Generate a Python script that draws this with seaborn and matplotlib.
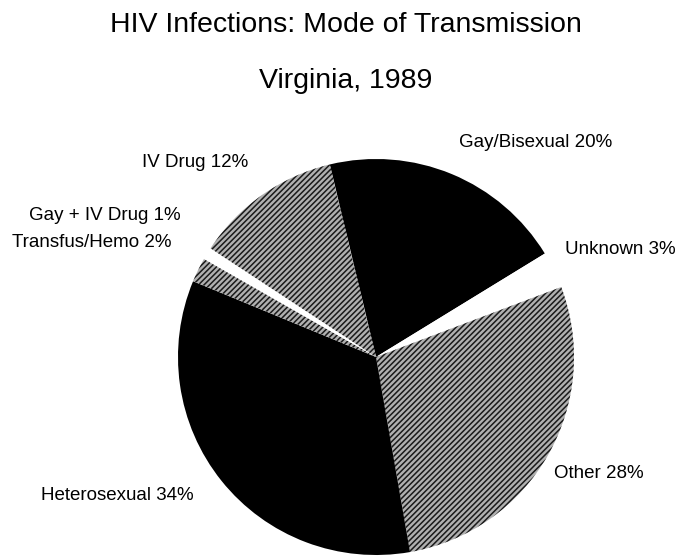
"""
HIV infections by mode of transmission, Virginia 1989 -- pie chart.
"""

import matplotlib

matplotlib.use("Agg")
import matplotlib.pyplot as plt
import seaborn as sns

# slices, clockwise starting at the top (Gay/Bisexual)
CATEGORIES = [
    "Gay/Bisexual",
    "Unknown",
    "Other",
    "Heterosexual",
    "Transfus/Hemo",
    "Gay + IV Drug",
    "IV Drug",
]
PERCENTS = [20, 3, 28, 34, 2, 1, 12]
COLORS = ["black", "white", "#b0b0b0", "black", "#b0b0b0", "white", "#b0b0b0"]
HATCHES = [None, None, "//////", None, "//////", None, "//////"]

# label anchor positions (figure pixels, from top-left)
LABEL_PX = [
    (536, 143),
    (620, 250),
    (599, 474),
    (117, 495),
    (92, 243),
    (105, 216),
    (195, 163),
]

W, H = 679, 559
CX, CY, R = 376, 357, 198  # pie centre / radius in pixels


def main() -> None:
    sns.set_theme(style="white")
    plt.rcParams["font.family"] = ["Liberation Sans", "DejaVu Sans"]
    plt.rcParams["hatch.linewidth"] = 1.1

    fig = plt.figure(figsize=(W / 100, H / 100), dpi=100)
    ax = fig.add_axes([0, 0, 1, 1])

    wedges, _ = ax.pie(
        PERCENTS,
        colors=COLORS,
        startangle=103.5,
        counterclock=False,
        radius=1.0,
        wedgeprops={"linewidth": 0},
        frame=True,
    )
    # dithered grey look of the original print
    for w, hatch in zip(wedges, HATCHES):
        if hatch:
            w.set_hatch(hatch)
            w.set_edgecolor("#1a1a1a")
            w.set_linewidth(0)

    ax.set_xlim(-CX / R, (W - CX) / R)
    ax.set_ylim(-(H - CY) / R, CY / R)
    ax.set_aspect("equal")
    ax.axis("off")

    for name, pct, (px, py) in zip(CATEGORIES, PERCENTS, LABEL_PX):
        ax.text((px - CX) / R, (CY - py) / R, f"{name} {pct}%",
                ha="center", va="center", fontsize=13.5, color="black")

    fig.text(346 / W, 1 - 32 / H, "HIV Infections: Mode of Transmission",
             ha="center", va="baseline", fontsize=20.5, color="black")
    fig.text(346 / W, 1 - 88 / H, "Virginia, 1989",
             ha="center", va="baseline", fontsize=20.5, color="black")

    fig.savefig("out.png", dpi=100, facecolor="white")
    plt.close(fig)


if __name__ == "__main__":
    main()
